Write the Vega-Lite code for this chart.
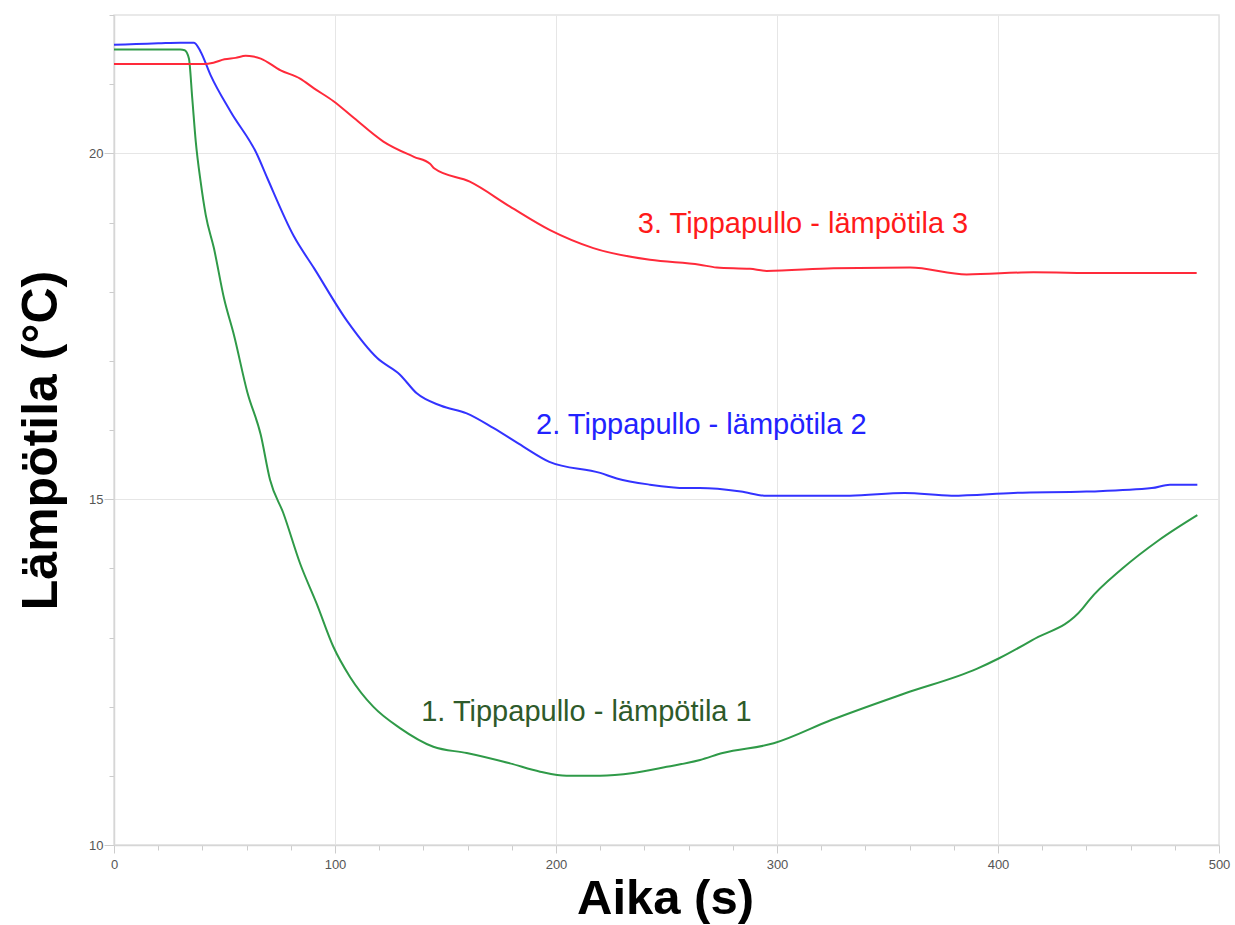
{
  "$schema": "https://vega.github.io/schema/vega-lite/v6.json",
  "width": 1105,
  "height": 830,
  "autosize": {"type": "none"},
  "padding": {"left": 114, "top": 15, "right": 16, "bottom": 80},
  "background": "white",
  "config": {"view": {"stroke": "#e2e2e2", "strokeWidth": 1.5}, "font": "Liberation Sans"},
  "datasets": {
    "series": [
      {"sarja": "1. Tippapullo - lämpötila 1", "aika": 0, "lampotila": 21.5},
      {"sarja": "1. Tippapullo - lämpötila 1", "aika": 10, "lampotila": 21.5},
      {"sarja": "1. Tippapullo - lämpötila 1", "aika": 20, "lampotila": 21.5},
      {"sarja": "1. Tippapullo - lämpötila 1", "aika": 30, "lampotila": 21.5},
      {"sarja": "1. Tippapullo - lämpötila 1", "aika": 32, "lampotila": 21.49},
      {"sarja": "1. Tippapullo - lämpötila 1", "aika": 33.9, "lampotila": 21.37},
      {"sarja": "1. Tippapullo - lämpötila 1", "aika": 35.4, "lampotila": 20.8},
      {"sarja": "1. Tippapullo - lämpötila 1", "aika": 37, "lampotila": 20.17},
      {"sarja": "1. Tippapullo - lämpötila 1", "aika": 39.2, "lampotila": 19.59},
      {"sarja": "1. Tippapullo - lämpötila 1", "aika": 41.5, "lampotila": 19.11},
      {"sarja": "1. Tippapullo - lämpötila 1", "aika": 45.2, "lampotila": 18.63},
      {"sarja": "1. Tippapullo - lämpötila 1", "aika": 49.8, "lampotila": 17.9},
      {"sarja": "1. Tippapullo - lämpötila 1", "aika": 54.3, "lampotila": 17.37},
      {"sarja": "1. Tippapullo - lämpötila 1", "aika": 60.3, "lampotila": 16.55},
      {"sarja": "1. Tippapullo - lämpötila 1", "aika": 66.4, "lampotila": 15.93},
      {"sarja": "1. Tippapullo - lämpötila 1", "aika": 70.6, "lampotila": 15.28},
      {"sarja": "1. Tippapullo - lämpötila 1", "aika": 76.6, "lampotila": 14.8},
      {"sarja": "1. Tippapullo - lämpötila 1", "aika": 84.2, "lampotila": 14.07},
      {"sarja": "1. Tippapullo - lämpötila 1", "aika": 91.7, "lampotila": 13.49},
      {"sarja": "1. Tippapullo - lämpötila 1", "aika": 99.2, "lampotila": 12.87},
      {"sarja": "1. Tippapullo - lämpötila 1", "aika": 106.8, "lampotila": 12.43},
      {"sarja": "1. Tippapullo - lämpötila 1", "aika": 117.3, "lampotila": 12.0},
      {"sarja": "1. Tippapullo - lämpötila 1", "aika": 129.4, "lampotila": 11.69},
      {"sarja": "1. Tippapullo - lämpötila 1", "aika": 144.5, "lampotila": 11.42},
      {"sarja": "1. Tippapullo - lämpötila 1", "aika": 159.6, "lampotila": 11.33},
      {"sarja": "1. Tippapullo - lämpötila 1", "aika": 179.2, "lampotila": 11.18},
      {"sarja": "1. Tippapullo - lämpötila 1", "aika": 192.8, "lampotila": 11.06},
      {"sarja": "1. Tippapullo - lämpötila 1", "aika": 204.8, "lampotila": 11.0},
      {"sarja": "1. Tippapullo - lämpötila 1", "aika": 219.9, "lampotila": 11.0},
      {"sarja": "1. Tippapullo - lämpötila 1", "aika": 235, "lampotila": 11.04},
      {"sarja": "1. Tippapullo - lämpötila 1", "aika": 250.1, "lampotila": 11.13},
      {"sarja": "1. Tippapullo - lämpötila 1", "aika": 265.2, "lampotila": 11.23},
      {"sarja": "1. Tippapullo - lämpötila 1", "aika": 275.4, "lampotila": 11.33},
      {"sarja": "1. Tippapullo - lämpötila 1", "aika": 298.5, "lampotila": 11.47},
      {"sarja": "1. Tippapullo - lämpötila 1", "aika": 324.8, "lampotila": 11.81},
      {"sarja": "1. Tippapullo - lämpötila 1", "aika": 357.7, "lampotila": 12.19},
      {"sarja": "1. Tippapullo - lämpötila 1", "aika": 390.6, "lampotila": 12.55},
      {"sarja": "1. Tippapullo - lämpötila 1", "aika": 400.5, "lampotila": 12.7},
      {"sarja": "1. Tippapullo - lämpötila 1", "aika": 415.3, "lampotila": 12.96},
      {"sarja": "1. Tippapullo - lämpötila 1", "aika": 438.3, "lampotila": 13.42},
      {"sarja": "1. Tippapullo - lämpötila 1", "aika": 441, "lampotila": 13.53},
      {"sarja": "1. Tippapullo - lämpötila 1", "aika": 456.4, "lampotila": 14.0},
      {"sarja": "1. Tippapullo - lämpötila 1", "aika": 472.9, "lampotila": 14.41},
      {"sarja": "1. Tippapullo - lämpötila 1", "aika": 490.2, "lampotila": 14.77},

      {"sarja": "2. Tippapullo - lämpötila 2", "aika": 0, "lampotila": 21.57},
      {"sarja": "2. Tippapullo - lämpötila 2", "aika": 10, "lampotila": 21.58},
      {"sarja": "2. Tippapullo - lämpötila 2", "aika": 20, "lampotila": 21.59},
      {"sarja": "2. Tippapullo - lämpötila 2", "aika": 30, "lampotila": 21.6},
      {"sarja": "2. Tippapullo - lämpötila 2", "aika": 36.2, "lampotila": 21.6},
      {"sarja": "2. Tippapullo - lämpötila 2", "aika": 39.2, "lampotila": 21.47},
      {"sarja": "2. Tippapullo - lämpötila 2", "aika": 43.7, "lampotila": 21.13},
      {"sarja": "2. Tippapullo - lämpötila 2", "aika": 52.8, "lampotila": 20.6},
      {"sarja": "2. Tippapullo - lämpötila 2", "aika": 64.8, "lampotila": 19.98},
      {"sarja": "2. Tippapullo - lämpötila 2", "aika": 69.4, "lampotila": 19.64},
      {"sarja": "2. Tippapullo - lämpötila 2", "aika": 81.4, "lampotila": 18.8},
      {"sarja": "2. Tippapullo - lämpötila 2", "aika": 90.5, "lampotila": 18.34},
      {"sarja": "2. Tippapullo - lämpötila 2", "aika": 105.6, "lampotila": 17.57},
      {"sarja": "2. Tippapullo - lämpötila 2", "aika": 119.1, "lampotila": 17.04},
      {"sarja": "2. Tippapullo - lämpötila 2", "aika": 129.4, "lampotila": 16.8},
      {"sarja": "2. Tippapullo - lämpötila 2", "aika": 137, "lampotila": 16.53},
      {"sarja": "2. Tippapullo - lämpötila 2", "aika": 148, "lampotila": 16.35},
      {"sarja": "2. Tippapullo - lämpötila 2", "aika": 159.6, "lampotila": 16.24},
      {"sarja": "2. Tippapullo - lämpötila 2", "aika": 171.6, "lampotila": 16.03},
      {"sarja": "2. Tippapullo - lämpötila 2", "aika": 185.2, "lampotila": 15.76},
      {"sarja": "2. Tippapullo - lämpötila 2", "aika": 197, "lampotila": 15.54},
      {"sarja": "2. Tippapullo - lämpötila 2", "aika": 220, "lampotila": 15.38},
      {"sarja": "2. Tippapullo - lämpötila 2", "aika": 227.5, "lampotila": 15.3},
      {"sarja": "2. Tippapullo - lämpötila 2", "aika": 242.5, "lampotila": 15.21},
      {"sarja": "2. Tippapullo - lämpötila 2", "aika": 259, "lampotila": 15.16},
      {"sarja": "2. Tippapullo - lämpötila 2", "aika": 265, "lampotila": 15.16},
      {"sarja": "2. Tippapullo - lämpötila 2", "aika": 283.7, "lampotila": 15.11},
      {"sarja": "2. Tippapullo - lämpötila 2", "aika": 295.2, "lampotila": 15.05},
      {"sarja": "2. Tippapullo - lämpötila 2", "aika": 333, "lampotila": 15.05},
      {"sarja": "2. Tippapullo - lämpötila 2", "aika": 357.7, "lampotila": 15.09},
      {"sarja": "2. Tippapullo - lämpötila 2", "aika": 379, "lampotila": 15.05},
      {"sarja": "2. Tippapullo - lämpötila 2", "aika": 407, "lampotila": 15.09},
      {"sarja": "2. Tippapullo - lämpötila 2", "aika": 440, "lampotila": 15.11},
      {"sarja": "2. Tippapullo - lämpötila 2", "aika": 469.6, "lampotila": 15.16},
      {"sarja": "2. Tippapullo - lämpötila 2", "aika": 477.8, "lampotila": 15.21},
      {"sarja": "2. Tippapullo - lämpötila 2", "aika": 490.2, "lampotila": 15.21},

      {"sarja": "3. Tippapullo - lämpötila 3", "aika": 0, "lampotila": 21.29},
      {"sarja": "3. Tippapullo - lämpötila 3", "aika": 20, "lampotila": 21.29},
      {"sarja": "3. Tippapullo - lämpötila 3", "aika": 40.7, "lampotila": 21.29},
      {"sarja": "3. Tippapullo - lämpötila 3", "aika": 45, "lampotila": 21.31},
      {"sarja": "3. Tippapullo - lämpötila 3", "aika": 50, "lampotila": 21.36},
      {"sarja": "3. Tippapullo - lämpötila 3", "aika": 55, "lampotila": 21.38},
      {"sarja": "3. Tippapullo - lämpötila 3", "aika": 59.6, "lampotila": 21.41},
      {"sarja": "3. Tippapullo - lämpötila 3", "aika": 63, "lampotila": 21.4},
      {"sarja": "3. Tippapullo - lämpötila 3", "aika": 66.4, "lampotila": 21.37},
      {"sarja": "3. Tippapullo - lämpötila 3", "aika": 75.4, "lampotila": 21.2},
      {"sarja": "3. Tippapullo - lämpötila 3", "aika": 84.2, "lampotila": 21.08},
      {"sarja": "3. Tippapullo - lämpötila 3", "aika": 90.5, "lampotila": 20.94},
      {"sarja": "3. Tippapullo - lämpötila 3", "aika": 99.5, "lampotila": 20.75},
      {"sarja": "3. Tippapullo - lämpötila 3", "aika": 108.6, "lampotila": 20.51},
      {"sarja": "3. Tippapullo - lämpötila 3", "aika": 121.9, "lampotila": 20.17},
      {"sarja": "3. Tippapullo - lämpötila 3", "aika": 135.7, "lampotila": 19.95},
      {"sarja": "3. Tippapullo - lämpötila 3", "aika": 143, "lampotila": 19.85},
      {"sarja": "3. Tippapullo - lämpötila 3", "aika": 145, "lampotila": 19.78},
      {"sarja": "3. Tippapullo - lämpötila 3", "aika": 161, "lampotila": 19.59},
      {"sarja": "3. Tippapullo - lämpötila 3", "aika": 179.2, "lampotila": 19.23},
      {"sarja": "3. Tippapullo - lämpötila 3", "aika": 197.3, "lampotila": 18.89},
      {"sarja": "3. Tippapullo - lämpötila 3", "aika": 216.9, "lampotila": 18.63},
      {"sarja": "3. Tippapullo - lämpötila 3", "aika": 242.5, "lampotila": 18.46},
      {"sarja": "3. Tippapullo - lämpötila 3", "aika": 265, "lampotila": 18.39},
      {"sarja": "3. Tippapullo - lämpötila 3", "aika": 272.7, "lampotila": 18.35},
      {"sarja": "3. Tippapullo - lämpötila 3", "aika": 287.8, "lampotila": 18.33},
      {"sarja": "3. Tippapullo - lämpötila 3", "aika": 295.3, "lampotila": 18.3},
      {"sarja": "3. Tippapullo - lämpötila 3", "aika": 325.5, "lampotila": 18.34},
      {"sarja": "3. Tippapullo - lämpötila 3", "aika": 360.2, "lampotila": 18.35},
      {"sarja": "3. Tippapullo - lämpötila 3", "aika": 385.8, "lampotila": 18.25},
      {"sarja": "3. Tippapullo - lämpötila 3", "aika": 416, "lampotila": 18.28},
      {"sarja": "3. Tippapullo - lämpötila 3", "aika": 446.2, "lampotila": 18.27},
      {"sarja": "3. Tippapullo - lämpötila 3", "aika": 489.9, "lampotila": 18.27}
    ],
    "labels": [
      {"sarja": "1. Tippapullo - lämpötila 1", "aika": 139, "lampotila": 11.92},
      {"sarja": "2. Tippapullo - lämpötila 2", "aika": 191, "lampotila": 16.07},
      {"sarja": "3. Tippapullo - lämpötila 3", "aika": 237, "lampotila": 18.98}
    ]
  },
  "encoding": {
    "x": {
      "field": "aika",
      "type": "quantitative",
      "scale": {"domain": [0, 500], "nice": false, "zero": false},
      "axis": {
        "values": [0, 20, 40, 60, 80, 100, 120, 140, 160, 180, 200, 220, 240, 260, 280, 300, 320, 340, 360, 380, 400, 420, 440, 460, 480, 500],
        "labelExpr": "datum.value % 100 === 0 ? datum.label : ''",
        "labelFont": "Liberation Sans",
        "labelFontSize": 13,
        "labelColor": "#555555",
        "labelPadding": 5,
        "labelFlush": false,
        "labelOverlap": false,
        "tickColor": "#cccccc",
        "tickSize": {"condition": {"test": "datum.value % 100 === 0", "value": 8}, "value": 5},
        "domainColor": "#d6d6d6",
        "domainWidth": 1.5,
        "grid": true,
        "gridColor": "#e6e6e6",
        "gridOpacity": {"condition": {"test": "datum.value % 100 === 0", "value": 1}, "value": 0},
        "title": "Aika (s)",
        "titleFont": "Liberation Sans",
        "titleFontSize": 49,
        "titleFontWeight": "bold",
        "titleColor": "#000000",
        "titleX": 551,
        "titleY": 68,
        "titleAlign": "center",
        "titleBaseline": "alphabetic"
      }
    },
    "y": {
      "field": "lampotila",
      "type": "quantitative",
      "scale": {"domain": [10, 22], "nice": false, "zero": false},
      "axis": {
        "values": [10, 11, 12, 13, 14, 15, 16, 17, 18, 19, 20, 21, 22],
        "labelExpr": "datum.value % 5 === 0 ? datum.label : ''",
        "labelFont": "Liberation Sans",
        "labelFontSize": 13,
        "labelColor": "#555555",
        "labelPadding": 1,
        "labelOverlap": false,
        "labelFlush": false,
        "tickColor": "#cccccc",
        "tickSize": {"condition": {"test": "datum.value % 5 === 0", "value": 10}, "value": 5},
        "domainColor": "#d6d6d6",
        "domainWidth": 1.5,
        "grid": true,
        "gridColor": "#e6e6e6",
        "gridOpacity": {"condition": {"test": "datum.value % 5 === 0", "value": 1}, "value": 0},
        "title": "Lämpötila (°C)",
        "titleFont": "Liberation Sans",
        "titleFontSize": 50,
        "titleFontWeight": "bold",
        "titleColor": "#000000",
        "titleAngle": -90,
        "titleX": -58,
        "titleY": 425,
        "titleAlign": "center",
        "titleBaseline": "alphabetic"
      }
    }
  },
  "layer": [
    {
      "data": {"name": "series"},
      "mark": {"type": "line", "strokeWidth": 2, "interpolate": "monotone"},
      "encoding": {
        "color": {
          "field": "sarja",
          "type": "nominal",
          "scale": {
            "domain": ["1. Tippapullo - lämpötila 1", "2. Tippapullo - lämpötila 2", "3. Tippapullo - lämpötila 3"],
            "range": ["#2f9a48", "#3333ff", "#ff2a3a"]
          },
          "legend": null
        }
      }
    },
    {
      "data": {"name": "labels"},
      "mark": {"type": "text", "align": "left", "baseline": "middle", "font": "Liberation Sans", "fontSize": 29},
      "encoding": {
        "text": {"field": "sarja", "type": "nominal"},
        "color": {
          "field": "sarja",
          "type": "nominal",
          "scale": {
            "domain": ["1. Tippapullo - lämpötila 1", "2. Tippapullo - lämpötila 2", "3. Tippapullo - lämpötila 3"],
            "range": ["#2e5a2a", "#2222ff", "#ff1a1a"]
          },
          "legend": null
        }
      }
    }
  ],
  "resolve": {"scale": {"color": "independent"}}
}
